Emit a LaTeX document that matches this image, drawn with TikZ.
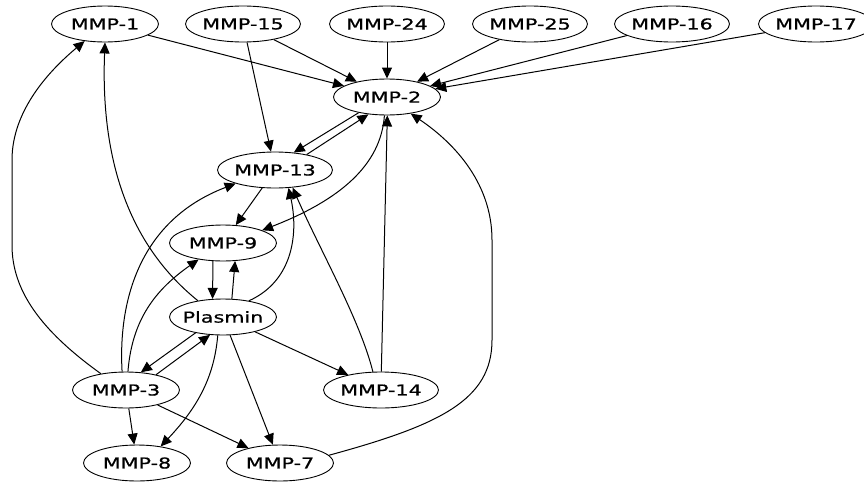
\documentclass[tikz,border=0pt]{standalone}
\usepackage{fontspec}
\setmainfont{DejaVu Sans}[FakeStretch=1.38,FakeBold=0.8]
\usetikzlibrary{shapes.geometric,arrows.meta}
\tikzset{
  nd/.style={ellipse, draw=black, line width=0.9pt, minimum width=107pt, minimum height=36pt, inner sep=0pt,
    font=\fontsize{15}{18}\selectfont},
  ndw/.style={nd, minimum width=115pt},
  edge/.style={line width=1pt, -{Triangle[length=11pt,width=10pt]}}
}
\newcommand{\lbl}[1]{\makebox[0pt]{#1}}
\begin{document}
\begin{tikzpicture}[x=1pt,y=-1pt]
\useasboundingbox (0,0) rectangle (864,482);
\fill[white] (0,0) rectangle (864,482);
% nodes
\node[nd]  (m1)  at (105,24)  {\lbl{MMP-1}};
\node[ndw] (m15) at (243,24)  {\lbl{MMP-15}};
\node[ndw] (m24) at (387,24)  {\lbl{MMP-24}};
\node[ndw] (m25) at (530,24)  {\lbl{MMP-25}};
\node[ndw] (m16) at (672,24)  {\lbl{MMP-16}};
\node[ndw] (m17) at (816,24)  {\lbl{MMP-17}};
\node[nd]  (m2)  at (387,97)  {\lbl{MMP-2}};
\node[ndw] (m13) at (275,170) {\lbl{MMP-13}};
\node[nd]  (m9)  at (223,243) {\lbl{MMP-9}};
\node[nd]  (pl)  at (223,317) {\lbl{Plasmin}};
\node[nd]  (m3)  at (126,390) {\lbl{MMP-3}};
\node[ndw] (m14) at (381,390) {\lbl{MMP-14}};
\node[nd]  (m8)  at (137,463) {\lbl{MMP-8}};
\node[nd]  (m7)  at (280,463) {\lbl{MMP-7}};
% straight edges
\draw[edge] (m1) -- (m2);
\draw[edge] (m15) -- (m2);
\draw[edge] (m15) -- (m13);
\draw[edge] (m24) -- (m2);
\draw[edge] (m25) -- (m2);
\draw[edge] (m16) -- (m2);
\draw[edge] (m17) -- (m2);
\draw[edge] (m13) -- (m9);
\draw[edge] (pl) -- (m14);
\draw[edge] (pl) -- (m7);
\draw[edge] (m3) -- (m8);
\draw[edge] (m3) -- (m7);
\draw[edge] (m14.89) -- (m2.271);
% parallel pairs
\draw[edge] (m2.209) -- (m13.43);
\draw[edge] (m13.26) -- (m2.223);
\draw[edge] (m9.241) -- (pl.120);
\draw[edge] (pl.64) -- (m9.304);
\draw[edge] (pl.210) -- (m3.50);
\draw[edge] (m3.27) -- (pl.234);
% curved edges
\draw[edge] (m2.262) .. controls (381,165) and (340,200) .. (m9.18);
\draw[edge] (m3.147) .. controls (40,330) and (12,290) .. (12,245) -- (12,160) .. controls (12,110) and (50,70) .. (m1.220);
\draw[edge] (pl.147) .. controls (135,250) and (100,170) .. (m1.270);
\draw[edge] (m3.102) .. controls (118,300) and (140,220) .. (m13.199);
\draw[edge] (m3.84) .. controls (132,320) and (155,290) .. (m9.214);
\draw[edge] (pl.32) .. controls (295,280) and (298,230) .. (m13.307);
\draw[edge] (m14.114) .. controls (360,320) and (320,250) .. (m13.315);
\draw[edge] (m7.9) .. controls (440,425) and (492,400) .. (492,340) -- (492,240) .. controls (492,180) and (450,140) .. (m2.325);
\draw[edge] (pl.254) .. controls (214,380) and (195,410) .. (m8.35);
\end{tikzpicture}
\end{document}
